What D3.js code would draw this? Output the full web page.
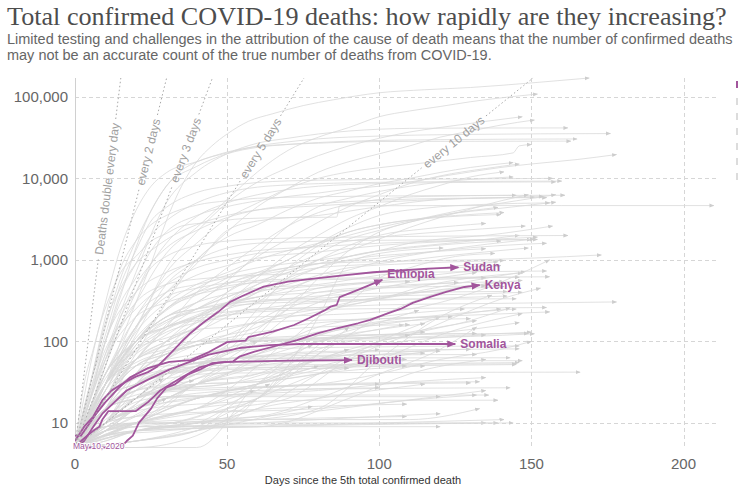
<!DOCTYPE html>
<html>
<head>
<meta charset="utf-8">
<script src="https://cdn.jsdelivr.net/npm/d3@7"></script>
<style>
  body { margin: 0; background: #fff; }
  svg { display: block; }
  text { font-family: "Liberation Sans", Arial, sans-serif; }
</style>
</head>
<body>
<svg id="chart" width="738" height="487"></svg>
<script>
// ---- Axis ticks -------------------------------------------------------------
const xTicks = [0, 50, 100, 150, 200];
const yTicks = [10, 100, 1000, 10000, 100000];
const yTickLabels = ["10", "100", "1,000", "10,000", "100,000"];

// ---- Doubling-time guides ------------------------------------------------------
const doublingDays = [1, 2, 3, 5, 10];
const doublingLabels = ["Deaths double every day", "every 2 days", "every 3 days", "every 5 days", "every 10 days"];

// ---- Highlighted countries: [day since 5th death, total confirmed deaths] --------
const highlightNames = ["Sudan", "Ethiopia", "Kenya", "Somalia", "Djibouti"];
const sudan = [[0,6],[3,9],[6,12],[9,19],[12,25],[16,31],[20,37],[24,42],[27,49],[31,69],[35,99],[38,127],[42,168],[47,229],[51,305],[55,360],[62,470],[70,540],[77,580],[89,650],[98,705],[116,780],[126,810]];
const ethiopia = [[0,7],[2,7],[4,9],[7,13],[10,18],[14,26],[18,36],[24,47],[31,56],[38,59],[44,74],[50,98],[56,102],[57,113],[65,132],[72,159],[77,194],[82,240],[84,267],[86,280],[87,350],[93,428],[101,569]];
const kenya = [[0,5],[2,6],[4,7],[6,8],[8,9],[9,11],[11,14],[20,14],[24,18],[28,25],[35,36],[41,48],[47,55],[52,57],[54,65],[59,75],[65,86],[73,104],[80,126],[86,145],[93,167],[97,184],[103,222],[107,250],[111,297],[117,355],[122,405],[128,465],[133,490]];
const somalia = [[0,5],[3,6],[6,9],[9,13],[13,18],[17,25],[24,34],[31,45],[37,55],[44,69],[54,83],[64,90],[74,93],[100,93],[125,93]];
const djibouti = [[0,5],[15,5],[17,6],[19,7],[21,10],[25,15],[27,20],[30,27],[33,30],[37,39],[41,45],[45,54],[50,56],[70,58],[91,59]];
const highlightSeries = [sudan, ethiopia, kenya, somalia, djibouti];

// ---- Other countries ----------------------------------------------------------
const largestOutbreaks = [
  ["United States", [[0,5],[5,12],[10,30],[15,100],[20,300],[25,900],[30,3000],[35,8000],[40,16000],[45,25000],[50,35000],[57,50000],[65,62000],[75,78000],[85,92000],[100,112000],[115,122000],[130,130000],[150,148000],[169,170000]]],
  ["Brazil", [[0,5],[10,60],[20,300],[30,1200],[40,2500],[50,5500],[60,12000],[70,22000],[80,32000],[90,42000],[100,57000],[110,67000],[120,76000],[130,87000],[140,97000],[152,108000]]],
  ["Mexico", [[0,5],[10,30],[20,140],[30,800],[40,2200],[50,5000],[60,9000],[70,13500],[80,19000],[90,25000],[100,31000],[110,37000],[120,42000],[135,50000],[147,57000]]],
  ["India", [[0,5],[10,25],[20,120],[30,500],[40,1000],[50,2200],[60,4500],[70,7500],[80,11900],[90,16000],[100,20000],[110,25000],[120,32000],[130,38000],[140,45000],[151,52000]]],
  ["United Kingdom", [[0,5],[10,70],[20,700],[30,5000],[40,12000],[50,20000],[60,27000],[70,31000],[80,35000],[90,38000],[110,41000],[130,41400],[162,41500]]],
  ["Italy", [[0,5],[5,20],[10,100],[15,360],[20,1400],[25,4000],[30,8000],[35,12500],[40,15900],[50,20500],[60,25000],[70,28000],[80,30500],[100,33000],[130,34600],[176,35400]]],
  ["France", [[0,5],[5,30],[10,150],[15,600],[20,1700],[25,4000],[30,8000],[40,14000],[50,20000],[60,24000],[70,26000],[90,28500],[120,29800],[165,30400]]],
  ["Spain", [[0,5],[5,50],[10,300],[15,1400],[20,4000],[25,8000],[30,11700],[40,16000],[50,21000],[60,24500],[80,27000],[100,28300],[120,28400],[163,28600]]],
  ["Peru", [[0,5],[10,40],[20,150],[30,700],[40,1600],[50,3200],[60,5000],[70,7500],[80,10000],[90,12000],[100,13500],[115,15500],[130,18000],[144,20500],[146,25000],[150,26000]]],
  ["Iran", [[0,5],[5,30],[10,100],[15,300],[20,600],[25,1300],[30,2200],[40,3500],[50,4500],[60,5300],[70,6000],[80,6600],[90,7400],[100,8000],[110,9000],[120,10500],[130,12000],[140,13600],[150,15000],[165,17000],[178,19600]]],
  ["Russia", [[0,5],[10,20],[20,70],[30,300],[40,1000],[50,1900],[60,2700],[70,4100],[80,5700],[90,7000],[100,8600],[110,10000],[120,11800],[130,13600],[144,15600]]],
  ["Colombia", [[0,5],[10,30],[20,110],[30,240],[40,400],[50,600],[60,1100],[70,1800],[80,2900],[90,4500],[100,6300],[110,8600],[120,10700],[135,13200],[146,15000]]],
  ["South Africa", [[0,5],[10,20],[20,60],[30,100],[40,150],[50,300],[60,600],[70,1200],[80,2000],[90,3200],[100,4500],[110,6300],[120,8200],[130,10400],[141,12000]]],
  ["Chile", [[0,5],[10,25],[20,100],[30,200],[40,300],[50,550],[60,1200],[70,2600],[80,4500],[90,5700],[100,6900],[110,8000],[120,9000],[130,9700],[144,10400]]],
  ["China", [[0,5],[3,30],[6,80],[9,200],[12,400],[15,700],[20,1100],[25,1700],[30,2100],[35,2600],[45,2900],[55,3200],[70,3300],[86,3340],[87,4600],[120,4630],[160,4634],[210,4634]]]
];

const europe = [
  ["Belgium", [[0,5],[5,30],[10,120],[15,500],[20,1300],[25,3000],[30,4400],[40,6700],[50,8000],[60,8900],[70,9300],[90,9600],[120,9780],[157,9990]]],
  ["Germany", [[0,5],[5,25],[10,100],[15,400],[20,900],[25,2000],[30,3000],[40,5000],[50,6700],[60,7800],[70,8300],[90,8800],[120,9100],[160,9250]]],
  ["Netherlands", [[0,5],[5,30],[10,200],[15,800],[20,1700],[25,2700],[30,3500],[40,4700],[50,5300],[60,5700],[80,5950],[110,6100],[161,6200]]],
  ["Sweden", [[0,5],[5,15],[10,50],[15,150],[20,400],[25,900],[30,1400],[40,2300],[50,3300],[60,4100],[80,4900],[100,5400],[125,5700],[155,5800]]],
  ["Romania", [[0,5],[10,80],[20,250],[30,500],[40,800],[50,1000],[60,1200],[70,1300],[80,1500],[90,1700],[100,1900],[120,2200],[148,2600]]],
  ["Ukraine", [[0,5],[10,30],[20,100],[30,250],[40,370],[50,520],[60,650],[70,750],[80,900],[90,1100],[100,1300],[115,1500],[130,1700],[146,2000]]],
  ["Switzerland", [[0,5],[5,15],[10,60],[15,200],[20,400],[25,800],[30,1100],[40,1500],[50,1700],[60,1800],[90,1900],[162,1990]]],
  ["Ireland", [[0,5],[10,40],[20,200],[30,600],[40,1000],[50,1400],[60,1600],[70,1650],[90,1730],[150,1770]]],
  ["Portugal", [[0,5],[5,20],[10,100],[20,400],[30,700],[40,950],[50,1150],[60,1300],[80,1450],[100,1600],[125,1720],[152,1780]]],
  ["Poland", [[0,5],[10,30],[20,150],[30,400],[40,650],[50,850],[60,1050],[80,1250],[100,1500],[125,1700],[152,1900]]],
  ["Moldova", [[0,5],[10,40],[20,100],[30,150],[40,250],[50,350],[60,450],[80,500],[100,650],[120,800],[139,950]]],
  ["Austria", [[0,5],[10,70],[20,300],[30,500],[40,580],[50,620],[60,650],[90,690],[120,710],[155,730]]],
  ["Serbia", [[0,5],[10,30],[20,100],[30,150],[40,200],[50,230],[60,250],[80,260],[100,330],[115,480],[130,600],[147,690]]],
  ["Denmark", [[0,5],[10,40],[20,150],[30,350],[40,450],[50,520],[60,560],[90,600],[156,620]]],
  ["Hungary", [[0,5],[10,30],[20,100],[30,250],[40,400],[50,480],[60,530],[80,570],[146,610]]],
  ["Belarus", [[0,5],[10,30],[20,70],[30,120],[40,200],[50,280],[60,350],[80,450],[100,530],[135,600]]],
  ["Bulgaria", [[0,5],[10,20],[20,40],[30,70],[40,100],[50,140],[60,170],[80,230],[100,330],[130,480],[147,560]]],
  ["North Macedonia", [[0,5],[10,30],[20,55],[30,75],[40,90],[50,120],[60,180],[70,280],[80,400],[100,470],[141,540]]],
  ["Kosovo", [[0,5],[10,15],[20,25],[30,28],[40,30],[60,32],[80,70],[100,200],[120,400],[141,540]]],
  ["Bosnia and Herzegovina", [[0,5],[10,30],[20,50],[30,60],[40,70],[50,80],[60,170],[80,250],[100,350],[141,470]]],
  ["Czechia", [[0,5],[10,40],[20,100],[30,200],[40,250],[50,280],[60,320],[80,340],[100,360],[130,380],[147,400]]],
  ["Finland", [[0,5],[10,25],[20,60],[30,140],[40,210],[50,290],[60,310],[80,325],[145,333]]],
  ["Norway", [[0,5],[10,20],[20,80],[30,150],[40,190],[50,210],[60,230],[90,250],[155,260]]],
  ["Greece", [[0,5],[10,30],[20,80],[30,110],[40,140],[50,150],[60,170],[100,190],[130,210],[156,230]]],
  ["Albania", [[0,5],[10,15],[20,22],[30,26],[40,30],[60,32],[80,40],[100,60],[120,120],[147,220]]],
  ["Croatia", [[0,5],[10,15],[20,40],[30,70],[40,90],[50,100],[70,105],[90,110],[110,120],[130,140],[146,170]]],
  ["Luxembourg", [[0,5],[10,20],[20,50],[30,70],[40,90],[50,100],[70,110],[100,110],[130,115],[151,124]]],
  ["Slovenia", [[0,5],[10,20],[20,40],[30,70],[40,90],[50,100],[70,105],[100,110],[150,130]]],
  ["Lithuania", [[0,5],[10,15],[20,30],[30,45],[50,60],[80,75],[146,81]]],
  ["Estonia", [[0,5],[10,20],[20,40],[30,55],[50,62],[143,63]]],
  ["Latvia", [[0,5],[10,10],[20,15],[30,20],[50,25],[80,30],[133,32]]],
  ["Slovakia", [[0,5],[10,12],[20,20],[30,25],[60,28],[130,31]]],
  ["Montenegro", [[0,5],[10,8],[20,9],[60,9],[90,20],[110,40],[135,60]]],
  ["Andorra", [[0,5],[10,20],[20,35],[30,45],[50,51],[145,53]]],
  ["San Marino", [[0,5],[10,15],[20,25],[30,35],[50,41],[166,42]]],
  ["Cyprus", [[0,5],[10,10],[20,14],[40,17],[80,19],[139,19]]],
  ["Iceland", [[0,5],[10,8],[20,10],[135,10]]],
  ["Malta", [[0,5],[10,6],[20,8],[40,9],[120,9]]]
];

const asiaAndMiddleEast = [
  ["Pakistan", [[0,5],[10,20],[20,60],[30,150],[40,400],[50,800],[60,1500],[70,2600],[80,3800],[90,4800],[100,5500],[115,6000],[145,6200]]],
  ["Indonesia", [[0,5],[10,30],[20,130],[30,300],[40,500],[50,700],[60,1000],[70,1300],[80,1600],[90,2000],[100,2500],[110,3000],[120,3600],[130,4300],[145,5300],[158,6300]]],
  ["Turkey", [[0,5],[5,30],[10,170],[15,450],[20,900],[25,1300],[30,1770],[40,2700],[50,3500],[60,4100],[80,4600],[100,5100],[125,5600],[151,5900]]],
  ["Iraq", [[0,5],[10,15],[20,60],[30,80],[40,100],[50,120],[60,150],[70,250],[80,600],[90,1300],[100,2200],[110,2900],[120,3500],[140,4300],[158,5100]]],
  ["Saudi Arabia", [[0,5],[10,30],[20,80],[30,140],[40,200],[50,280],[60,400],[70,800],[80,1500],[90,2200],[100,2700],[110,3100],[125,3500],[141,3800]]],
  ["Bangladesh", [[0,5],[10,20],[20,90],[30,170],[40,250],[50,400],[60,650],[70,1000],[80,1600],[90,2200],[100,2700],[115,3200],[140,3600]]],
  ["Philippines", [[0,5],[10,40],[20,100],[30,250],[40,450],[50,650],[60,800],[70,900],[80,1000],[90,1100],[100,1300],[110,1600],[120,1800],[135,2000],[157,2600]]],
  ["Japan", [[0,5],[10,20],[20,40],[30,60],[40,150],[50,400],[60,650],[70,800],[80,900],[100,950],[130,1000],[150,1050],[173,1150]]],
  ["Afghanistan", [[0,5],[10,20],[20,40],[30,60],[40,120],[50,250],[60,400],[70,600],[80,800],[90,1000],[110,1200],[135,1370]]],
  ["Kazakhstan", [[0,5],[10,15],[20,20],[30,25],[40,30],[50,40],[60,70],[70,100],[80,200],[90,300],[100,600],[110,800],[125,1100],[138,1200]]],
  ["Kyrgyzstan", [[0,5],[20,10],[40,15],[60,20],[70,50],[80,200],[90,900],[100,1200],[121,1400]]],
  ["Israel", [[0,5],[10,20],[20,100],[30,180],[40,230],[50,270],[60,290],[80,310],[100,340],[115,430],[130,550],[148,720]]],
  ["Armenia", [[0,5],[10,20],[20,30],[30,40],[40,60],[50,90],[60,200],[70,400],[80,600],[100,700],[140,850]]],
  ["Oman", [[0,5],[10,10],[20,15],[30,20],[40,30],[50,50],[60,100],[70,200],[80,300],[100,450],[132,700]]],
  ["Kuwait", [[0,5],[10,10],[20,40],[30,100],[40,200],[50,300],[60,350],[80,400],[100,450],[126,530]]],
  ["Yemen", [[0,5],[10,30],[20,100],[30,200],[40,300],[50,380],[70,450],[90,510],[110,540]]],
  ["Azerbaijan", [[0,5],[10,20],[20,30],[30,40],[40,50],[50,70],[60,140],[70,250],[80,350],[100,450],[135,480]]],
  ["South Korea", [[0,5],[5,15],[10,35],[20,75],[30,130],[40,170],[50,210],[60,240],[80,260],[100,280],[130,290],[178,305]]],
  ["Australia", [[0,5],[10,20],[20,50],[30,70],[40,90],[50,100],[60,102],[100,104],[115,140],[125,200],[140,330],[153,450]]],
  ["United Arab Emirates", [[0,5],[10,15],[20,60],[30,100],[40,150],[50,220],[60,250],[80,300],[100,320],[142,360]]],
  ["Qatar", [[0,5],[10,8],[20,10],[30,12],[40,15],[50,25],[60,50],[70,100],[90,150],[110,180],[130,190]]],
  ["Bahrain", [[0,5],[20,8],[40,10],[50,15],[60,20],[70,50],[80,80],[90,100],[110,130],[132,180]]],
  ["Uzbekistan", [[0,5],[20,8],[40,10],[60,15],[80,40],[100,100],[120,200]]],
  ["Malaysia", [[0,5],[10,30],[20,60],[30,90],[40,100],[50,105],[70,115],[100,121],[149,125]]],
  ["Lebanon", [[0,5],[10,15],[20,20],[30,24],[50,26],[80,30],[100,40],[120,60],[140,80],[150,100]]],
  ["Nepal", [[0,5],[10,10],[20,20],[40,30],[60,50],[78,90]]],
  ["Palestine", [[0,5],[10,8],[20,15],[30,25],[45,60],[60,100]]],
  ["Syria", [[0,5],[20,6],[40,9],[60,20],[80,40],[100,60],[120,80]]],
  ["Tajikistan", [[0,5],[10,20],[20,40],[30,50],[50,55],[70,57],[109,60]]],
  ["Thailand", [[0,5],[10,15],[20,30],[30,45],[40,54],[60,57],[100,58],[147,58]]],
  ["Singapore", [[0,5],[10,8],[20,12],[30,18],[50,22],[80,26],[143,27]]],
  ["New Zealand", [[0,5],[10,11],[20,18],[30,21],[50,22],[136,22]]],
  ["Georgia", [[0,5],[10,10],[20,12],[50,14],[80,16],[109,17]]],
  ["Sri Lanka", [[0,5],[10,9],[30,10],[60,11],[109,12]]],
  ["Jordan", [[0,5],[10,7],[20,8],[60,9],[100,10],[141,11]]]
];

const americas = [
  ["Canada", [[0,5],[5,15],[10,50],[15,200],[20,500],[25,900],[30,1600],[40,3400],[50,5000],[60,6300],[70,7300],[90,8400],[120,8850],[158,9050]]],
  ["Ecuador", [[0,5],[10,30],[20,150],[30,400],[40,900],[50,2300],[60,3000],[80,3500],[100,4500],[120,5500],[140,5800],[154,6000]]],
  ["Argentina", [[0,5],[10,25],[20,90],[30,180],[40,250],[50,350],[60,500],[70,700],[80,1000],[90,1300],[100,1800],[110,2500],[120,3300],[130,4200],[140,5300],[149,6300]]],
  ["Bolivia", [[0,5],[10,15],[20,40],[30,100],[40,170],[50,300],[60,500],[70,800],[80,1200],[90,1800],[100,2300],[110,2900],[120,3500],[139,4400]]],
  ["Guatemala", [[0,5],[10,15],[20,20],[30,30],[40,40],[50,90],[60,250],[70,600],[80,1000],[90,1500],[100,2000],[115,2400],[135,2800]]],
  ["Honduras", [[0,5],[10,30],[20,60],[30,90],[40,130],[50,200],[60,300],[70,550],[80,800],[90,1100],[110,1400],[140,1700]]],
  ["Panama", [[0,5],[10,30],[20,100],[30,200],[40,250],[50,300],[60,350],[70,450],[80,600],[90,750],[100,950],[120,1300],[151,1800]]],
  ["Dominican Republic", [[0,5],[10,60],[20,200],[30,300],[40,380],[50,450],[60,550],[70,700],[80,800],[100,900],[120,1100],[149,1400]]],
  ["El Salvador", [[0,5],[10,10],[20,15],[30,30],[40,50],[50,80],[60,120],[70,300],[80,450],[100,550],[133,750]]],
  ["Costa Rica", [[0,5],[20,8],[40,10],[60,11],[80,15],[100,60],[120,200],[137,370]]],
  ["Venezuela", [[0,5],[10,9],[20,10],[30,10],[50,15],[70,20],[90,60],[110,120],[130,180],[143,260]]],
  ["Haiti", [[0,5],[10,10],[20,15],[30,20],[40,30],[50,60],[60,100],[70,150],[90,180],[124,200]]],
  ["Paraguay", [[0,5],[10,8],[20,10],[40,11],[60,12],[80,20],[100,40],[120,80],[132,150]]],
  ["Nicaragua", [[0,5],[10,8],[20,17],[30,35],[40,64],[50,83],[60,99],[80,110],[115,130]]],
  ["Cuba", [[0,5],[10,10],[20,25],[30,50],[40,65],[50,75],[60,80],[90,85],[146,88]]],
  ["Uruguay", [[0,5],[10,8],[20,15],[30,20],[50,22],[80,25],[110,32],[135,36]]],
  ["Suriname", [[0,5],[20,10],[40,15],[59,25]]],
  ["Guyana", [[0,5],[10,6],[20,8],[40,10],[80,14],[110,19],[132,22]]],
  ["Bahamas", [[0,5],[10,8],[20,9],[60,11],[110,11],[133,15]]],
  ["Jamaica", [[0,5],[10,7],[20,8],[60,10],[120,13]]],
  ["Trinidad and Tobago", [[0,5],[10,7],[20,8],[139,10]]]
];

const africa = [
  ["Egypt", [[0,5],[10,20],[20,60],[30,160],[40,300],[50,500],[60,700],[70,1000],[80,1600],[90,2500],[100,3500],[115,4300],[135,4800],[156,5000]]],
  ["Algeria", [[0,5],[10,30],[20,200],[30,400],[40,500],[50,600],[60,700],[80,900],[100,1050],[120,1300],[140,1500],[155,1600]]],
  ["Morocco", [[0,5],[10,30],[20,100],[30,150],[40,180],[50,190],[60,200],[80,210],[100,230],[110,250],[120,300],[135,450],[156,1000]]],
  ["Nigeria", [[0,5],[10,15],[20,30],[30,80],[40,180],[50,300],[60,400],[70,500],[80,650],[90,800],[110,900],[141,980]]],
  ["Cameroon", [[0,5],[10,20],[20,50],[30,80],[40,150],[50,250],[60,300],[80,360],[100,390],[142,410]]],
  ["Ghana", [[0,5],[10,8],[20,10],[30,16],[40,30],[60,40],[70,60],[80,120],[100,160],[120,200],[140,250]]],
  ["Senegal", [[0,5],[10,8],[20,15],[30,25],[40,35],[50,50],[60,70],[80,150],[100,200],[128,250]]],
  ["DR Congo", [[0,5],[10,15],[20,25],[30,30],[40,40],[50,60],[60,70],[70,90],[90,150],[120,210],[145,250]]],
  ["Zambia", [[0,5],[10,7],[30,8],[50,10],[60,20],[70,40],[80,90],[100,170],[113,240]]],
  ["Madagascar", [[0,5],[10,10],[20,15],[30,20],[40,30],[50,40],[60,60],[70,80],[80,100],[90,120],[108,160]]],
  ["Malawi", [[0,5],[20,6],[40,8],[50,15],[60,30],[70,60],[80,100],[100,140],[115,165]]],
  ["Mauritania", [[0,5],[10,10],[20,30],[30,60],[40,90],[50,110],[60,130],[80,150],[110,160]]],
  ["Zimbabwe", [[0,5],[20,5],[40,7],[60,20],[80,70],[90,150]]],
  ["Cote d'Ivoire", [[0,5],[10,10],[20,15],[30,20],[40,30],[60,40],[80,60],[100,90],[135,120]]],
  ["Mali", [[0,5],[10,10],[20,17],[30,35],[40,50],[50,70],[60,90],[80,110],[100,120],[132,125]]],
  ["Libya", [[0,5],[20,5],[40,5],[60,30],[80,60],[100,100],[110,120]]],
  ["Liberia", [[0,5],[10,10],[20,20],[30,25],[50,30],[70,40],[90,60],[110,75],[130,80]]],
  ["Equatorial Guinea", [[0,5],[20,10],[40,30],[60,50],[80,60],[100,80]]],
  ["Angola", [[0,5],[10,8],[20,10],[40,15],[60,30],[80,60],[90,80]]],
  ["Chad", [[0,5],[10,10],[20,30],[30,45],[40,55],[60,65],[90,74],[120,76]]],
  ["Sierra Leone", [[0,5],[10,10],[20,20],[30,40],[50,55],[80,65],[115,72]]],
  ["Niger", [[0,5],[10,15],[20,25],[30,40],[40,55],[60,65],[90,68],[132,69]]],
  ["Central African Republic", [[0,5],[20,15],[40,40],[60,55],[95,62]]],
  ["Congo", [[0,5],[10,10],[20,12],[40,20],[60,30],[80,45],[100,60]]],
  ["Namibia", [[0,5],[10,10],[20,20],[30,40],[40,60]]],
  ["Burkina Faso", [[0,5],[10,10],[20,30],[30,40],[50,45],[80,50],[110,53],[146,55]]],
  ["Tunisia", [[0,5],[10,15],[20,30],[30,40],[40,45],[60,48],[100,50],[145,52]]],
  ["Eswatini", [[0,5],[20,10],[40,20],[60,30],[80,50]]],
  ["Guinea", [[0,5],[10,10],[20,15],[40,20],[60,30],[80,40],[115,50]]],
  ["Gabon", [[0,5],[10,10],[20,15],[30,25],[50,30],[70,45],[109,50]]],
  ["South Sudan", [[0,5],[20,15],[40,35],[60,45],[90,47]]],
  ["Gambia", [[0,5],[10,10],[20,20],[29,35]]],
  ["Lesotho", [[0,5],[10,10],[20,20],[39,33]]],
  ["Mozambique", [[0,5],[20,8],[40,12],[64,30]]],
  ["Cape Verde", [[0,5],[20,6],[40,8],[60,15],[80,20],[115,30]]],
  ["Benin", [[0,5],[20,10],[40,20],[60,27],[100,30]]],
  ["Guinea-Bissau", [[0,5],[20,10],[40,20],[60,25],[100,27]]],
  ["Togo", [[0,5],[10,9],[20,10],[40,13],[80,15],[135,25]]],
  ["Tanzania", [[0,5],[10,10],[20,16],[30,21],[120,21]]],
  ["Uganda", [[0,5],[15,10],[30,20]]],
  ["Rwanda", [[0,5],[20,6],[40,8],[78,16]]],
  ["Mauritius", [[0,5],[10,7],[20,9],[144,10]]]
];

const otherCountries = [...largestOutbreaks, ...europe, ...asiaAndMiddleEast, ...americas, ...africa];

// ---- Layout --------------------------------------------------------------------
const W = 738, H = 487;
const plot = { left: 75, right: 717, top: 78, bottom: 447.5 };
const yMax = 170000, yMin = 5;
const purple = "#a2559c";
const grey = "#d9d9d9";

const svg = d3.select("#chart");
const x = d3.scaleLinear().domain([0, 211]).range([plot.left, plot.right]);
const y = d3.scaleLog().domain([yMin, yMax]).range([plot.bottom, plot.top]);

// Title and subtitle
const title = svg.append("text")
  .attr("x", 7).attr("y", 25)
  .style("font-family", "'Liberation Serif', 'Times New Roman', serif")
  .style("font-size", "24px").attr("fill", "#4d4d4d")
  .text("Total confirmed COVID-19 deaths: how rapidly are they increasing?");
const tw = title.node().getComputedTextLength();
title.style("font-size", (24 * 720 / tw) + "px");

const sub1 = svg.append("text").attr("x", 7).attr("y", 43.5)
  .style("font-size", "13px").attr("fill", "#666")
  .text("Limited testing and challenges in the attribution of the cause of death means that the number of confirmed deaths");
const subSize = 13 * 726 / sub1.node().getComputedTextLength();
sub1.style("font-size", subSize + "px");
svg.append("text").attr("x", 7).attr("y", 59.5)
  .style("font-size", subSize + "px").attr("fill", "#666")
  .text("may not be an accurate count of the true number of deaths from COVID-19.");

// Markers
const defs = svg.append("defs");
function arrowMarker(id, color, size) {
  defs.append("marker").attr("id", id)
    .attr("viewBox", "0 0 10 10").attr("refX", 9).attr("refY", 5)
    .attr("markerWidth", size).attr("markerHeight", size)
    .attr("markerUnits", "userSpaceOnUse").attr("orient", "auto")
    .append("path").attr("d", "M0,1 L10,5 L0,9 Z").attr("fill", color);
}
arrowMarker("arrowGrey", "#cdcdcd", 5);
arrowMarker("arrowPurple", purple, 9);

defs.append("clipPath").attr("id", "plotClip").append("rect")
  .attr("x", plot.left).attr("y", plot.top - 2)
  .attr("width", plot.right - plot.left + 6).attr("height", plot.bottom - plot.top + 4);

// Gridlines
const grid = svg.append("g").attr("stroke", "#d6d6d6").attr("stroke-dasharray", "4,3").attr("stroke-width", 1);
grid.selectAll("line.h").data(yTicks).join("line").attr("class", "h")
  .attr("x1", plot.left).attr("x2", plot.right)
  .attr("y1", d => Math.round(y(d)) + 0.5).attr("y2", d => Math.round(y(d)) + 0.5);
grid.selectAll("line.v").data(xTicks.filter(d => d > 0)).join("line").attr("class", "v")
  .attr("y1", plot.top).attr("y2", plot.bottom)
  .attr("x1", d => Math.round(x(d)) + 0.5).attr("x2", d => Math.round(x(d)) + 0.5);

// Y axis line
svg.append("line").attr("x1", plot.left + 0.5).attr("x2", plot.left + 0.5)
  .attr("y1", plot.top).attr("y2", plot.bottom).attr("stroke", "#d0d0d0");

// Tick labels
svg.append("g").selectAll("text").data(yTicks).join("text")
  .attr("x", plot.left - 7).attr("y", d => y(d)).attr("dy", "0.36em")
  .attr("text-anchor", "end").style("font-size", "15px").attr("fill", "#666")
  .text((d, i) => yTickLabels[i]);
svg.append("g").selectAll("text").data(xTicks).join("text")
  .attr("x", d => x(d)).attr("y", 469).attr("text-anchor", "middle")
  .style("font-size", "15px").attr("fill", "#666").text(d => d);

svg.append("text").attr("x", 363).attr("y", 484).attr("text-anchor", "middle")
  .style("font-size", "11px").attr("fill", "#333")
  .text("Days since the 5th total confirmed death");

// Series
const line = d3.line().x(d => x(d[0])).y(d => y(d[1]));
const plotArea = svg.append("g").attr("clip-path", "url(#plotClip)");

plotArea.append("g").selectAll("path").data(otherCountries).join("path")
  .attr("d", d => line.curve(d3.curveMonotoneX)(d[1]))
  .attr("fill", "none").attr("stroke", grey).attr("stroke-width", 0.8)
  .attr("marker-end", "url(#arrowGrey)");

// Doubling-time guides with labels sitting in a gap of the dotted line
const labelAt = [0.70, 0.80, 0.805, 0.81, 0.827];
const lnTop = Math.log2(yMax / yMin);
const guides = svg.append("g");
doublingDays.forEach((k, i) => {
  const p0 = [x(0), y(yMin)];
  const p1 = [x(k * lnTop), y(yMax)];
  const dx = p1[0] - p0[0], dy = p1[1] - p0[1];
  const len = Math.hypot(dx, dy);
  const angle = Math.atan2(dy, dx) * 180 / Math.PI;
  const t = labelAt[i];
  const c = [p0[0] + dx * t, p0[1] + dy * t];
  const lab = guides.append("text")
    .attr("transform", `translate(${c[0]},${c[1]}) rotate(${angle})`)
    .attr("text-anchor", "middle").attr("dy", "0.35em")
    .style("font-size", "12px").attr("fill", "#a0a0a0")
    .text(doublingLabels[i]);
  const half = (lab.node().getComputedTextLength() / 2 + 4) / len;
  [[0, t - half], [t + half, 1]].forEach(([a, b]) => {
    guides.append("line")
      .attr("x1", p0[0] + dx * a).attr("y1", p0[1] + dy * a)
      .attr("x2", p0[0] + dx * b).attr("y2", p0[1] + dy * b)
      .attr("stroke", "#a8a8a8").attr("stroke-width", 1).attr("stroke-dasharray", "1.5,2.5");
  });
});

// Highlighted countries
const hl = plotArea.append("g");
hl.selectAll("path").data(highlightSeries).join("path")
  .attr("d", d => line.curve(d3.curveLinear)(d))
  .attr("fill", "none").attr("stroke", purple).attr("stroke-width", 1.8)
  .attr("stroke-linejoin", "round")
  .attr("marker-end", "url(#arrowPurple)");

const labelNudge = { Ethiopia: -6 };
svg.append("g").selectAll("text").data(highlightSeries).join("text")
  .attr("x", d => x(d[d.length - 1][0]) + 5)
  .attr("y", (d, i) => y(d[d.length - 1][1]) + 4 + (labelNudge[highlightNames[i]] || 0))
  .style("font-size", "12px").style("font-weight", "bold").attr("fill", purple)
  .text((d, i) => highlightNames[i]);

// Date stamp
svg.append("text").attr("x", 73).attr("y", 449)
  .style("font-size", "8.5px").attr("fill", purple)
  .attr("stroke", "#fff").attr("stroke-width", 2).attr("paint-order", "stroke")
  .text("May 10, 2020");

// Legend swatches at the right edge
const swatchColors = [purple, "#dcdcdc", "#dcdcdc", "#dcdcdc", "#dcdcdc", "#dcdcdc", "#dcdcdc"];
svg.append("g").selectAll("rect").data(swatchColors).join("rect")
  .attr("x", 736).attr("y", (d, i) => 81 + i * 15 + (i > 0 ? 2 : 0))
  .attr("width", 8).attr("height", 7).attr("fill", d => d);
</script>
</body>
</html>
